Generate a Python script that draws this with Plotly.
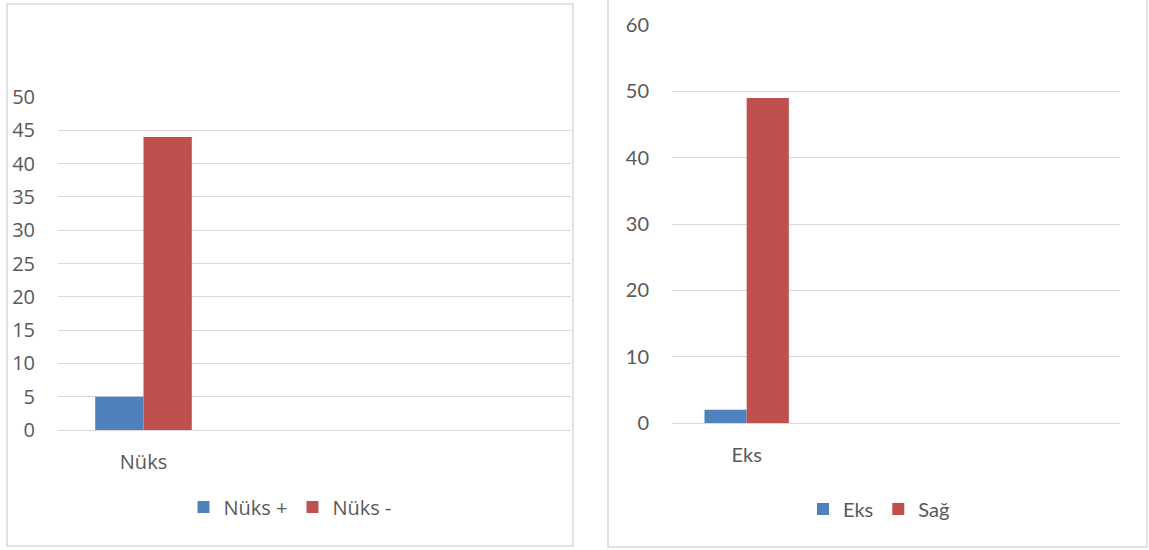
import plotly.graph_objects as go

W, H = 1149, 550

# Left chart data
left_categories = ["Nüks"]
left_series = ["Nüks +", "Nüks -"]
left_values = [[5], [44]]

# Right chart data
right_categories = ["Eks"]
right_series = ["Eks", "Sağ"]
right_values = [[2], [49]]

colors = ["#4F81BD", "#C0504D"]
grid = "#D9D9D9"
txt = "#595959"

def px_x(x):
    return x / W

def px_y(y):
    return (H - y) / H

fig = go.Figure()

for i, name in enumerate(left_series):
    fig.add_trace(go.Bar(x=left_categories, y=left_values[i], name=name,
                         marker=dict(color=colors[i], line=dict(width=0)),
                         xaxis="x", yaxis="y", legend="legend"))
for i, name in enumerate(right_series):
    fig.add_trace(go.Bar(x=right_categories, y=right_values[i], name=name,
                         marker=dict(color=colors[i], line=dict(width=0)),
                         xaxis="x2", yaxis="y2", legend="legend2"))

lf = dict(family="Open Sans", size=20, color=txt)
rf = dict(family="Lato", size=20, color=txt)

fig.update_layout(
    width=W, height=H, autosize=False,
    margin=dict(l=0, r=0, t=0, b=0, pad=0, autoexpand=False),
    paper_bgcolor="white", plot_bgcolor="white",
    barmode="group", bargap=0.435, bargroupgap=0,
    xaxis=dict(domain=[px_x(58), px_x(571)], anchor="y", type="category",
               range=[-0.5, 2.5], showgrid=False, zeroline=False, showline=False,
               ticks="", tickfont=lf, ticklabelstandoff=18, fixedrange=True,
               automargin=False),
    yaxis=dict(domain=[px_y(430), px_y(97)], anchor="x", range=[0, 50], dtick=5,
               showgrid=True, gridcolor=grid, gridwidth=1, zeroline=True,
               zerolinecolor=grid, zerolinewidth=1, showline=False, ticks="",
               tickfont=lf, ticklabelstandoff=22, fixedrange=True, automargin=False),
    xaxis2=dict(domain=[px_x(672), px_x(1120)], anchor="y2", type="category",
                range=[-0.5, 2.5], showgrid=False, zeroline=False, showline=False,
                ticks="", tickfont=rf, ticklabelstandoff=18, fixedrange=True,
                automargin=False),
    yaxis2=dict(domain=[px_y(423), px_y(25)], anchor="x2", range=[0, 60], dtick=10,
                showgrid=True, gridcolor=grid, gridwidth=1, zeroline=True,
                zerolinecolor=grid, zerolinewidth=1, showline=False, ticks="",
                tickfont=rf, ticklabelstandoff=22, fixedrange=True, automargin=False),
    legend=dict(orientation="h", x=px_x(290), xanchor="center", y=px_y(507),
                yanchor="middle", font=lf, bgcolor="rgba(0,0,0,0)",
                itemclick=False, itemdoubleclick=False),
    legend2=dict(orientation="h", x=px_x(879), xanchor="center", y=px_y(509),
                 yanchor="middle", font=rf, bgcolor="rgba(0,0,0,0)",
                 itemclick=False, itemdoubleclick=False),
    shapes=[
        dict(type="rect", xref="paper", yref="paper",
             x0=px_x(7), x1=px_x(573), y0=px_y(546), y1=px_y(4),
             line=dict(color=grid, width=1.5), fillcolor="rgba(0,0,0,0)", layer="below"),
        dict(type="rect", xref="paper", yref="paper",
             x0=px_x(608), x1=px_x(1147), y0=px_y(547), y1=px_y(-3),
             line=dict(color=grid, width=1.5), fillcolor="rgba(0,0,0,0)", layer="below"),
    ],
)

fig.write_html("out.html", config={"displayModeBar": False})
